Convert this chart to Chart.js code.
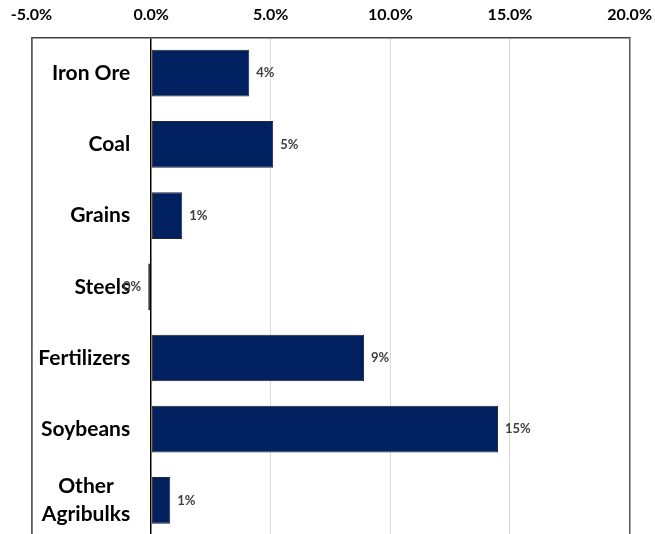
<!DOCTYPE html>
<html>
<head>
<meta charset="utf-8">
<script src="https://cdn.jsdelivr.net/npm/chart.js@4.4.1/dist/chart.umd.min.js"></script>
<style>
  html, body { margin: 0; padding: 0; background: #fff; overflow: hidden; }
  #wrap { width: 655px; height: 540px; position: relative; }
</style>
</head>
<body>
<div id="wrap"><canvas id="growthChart"></canvas></div>
<script>
// ========== DATA ==========
const categories = ['Iron Ore', 'Coal', 'Grains', 'Steels', 'Fertilizers', 'Soybeans', ['Other', 'Agribulks']];
const growth = [4.1, 5.1, 1.3, -0.12, 8.9, 14.5, 0.8];   // % change
const xTicks = [-5, 0, 5, 10, 15, 20];

const FONT = 'Lato, "Open Sans", sans-serif';

// category names, drawn just left of the zero line (Excel style)
const categoryLabels = {
    id: 'categoryLabels',
    afterDatasetsDraw(chart) {
        const ctx = chart.ctx;
        const xs = chart.scales.x, ys = chart.scales.y;
        const right = xs.getPixelForValue(0) - 21;
        ctx.save();
        ctx.font = 'bold 21px ' + FONT;
        ctx.fillStyle = '#000';
        ctx.textBaseline = 'middle';
        ctx.textAlign = 'center';
        categories.forEach((lab, i) => {
            const lines = Array.isArray(lab) ? lab : [lab];
            const w = Math.max(...lines.map(l => ctx.measureText(l).width));
            const cx = right - w / 2;
            const y0 = ys.getPixelForValue(i) - (lines.length - 1) * 28 / 2;
            lines.forEach((l, k) => ctx.fillText(l, cx, y0 + k * 28));
        });
        ctx.restore();
    }
};

// value labels at the bar ends
const barLabels = {
    id: 'barLabels',
    afterDatasetsDraw(chart) {
        const ctx = chart.ctx;
        const meta = chart.getDatasetMeta(0);
        ctx.save();
        ctx.font = 'bold 13px ' + FONT;
        ctx.fillStyle = '#404040';
        ctx.textBaseline = 'middle';
        meta.data.forEach((bar, i) => {
            const v = growth[i];
            const txt = String(Math.round(v)) + '%';
            if (v < 0) {
                ctx.textAlign = 'right';
                ctx.fillText(txt, bar.x - 7, bar.y);
            } else {
                ctx.textAlign = 'left';
                ctx.fillText(txt, bar.x + 7, bar.y);
            }
        });
        ctx.restore();
    }
};

function initChart() {
    const ctx = document.getElementById('growthChart').getContext('2d');
    new Chart(ctx, {
        type: 'bar',
        data: {
            labels: categories,
            datasets: [{
                data: growth,
                backgroundColor: '#002060',
                borderColor: '#262626',
                borderWidth: 1,
                borderSkipped: false,
                categoryPercentage: 1,
                barPercentage: 0.655
            }]
        },
        options: {
            indexAxis: 'y',
            responsive: true,
            maintainAspectRatio: false,
            animation: false,
            layout: { padding: { top: -7.5, left: 31.5, right: 24.5, bottom: 4 } },
            plugins: { legend: { display: false }, tooltip: { enabled: false } },
            scales: {
                x: {
                    position: 'top',
                    min: xTicks[0],
                    max: xTicks[xTicks.length - 1],
                    afterBuildTicks: (scale) => { scale.ticks = xTicks.map(v => ({ value: v })); },
                    ticks: {
                        font: { family: FONT, size: 16, weight: 'bold', lineHeight: 2.44 },
                        color: '#000',
                        padding: 3,
                        maxRotation: 0,
                        callback: (v) => Number(v).toFixed(1) + '%'
                    },
                    grid: {
                        drawTicks: false,
                        color: (c) => {
                            const v = c.tick && c.tick.value;
                            if (v === 0) return '#000';
                            if (v === xTicks[0] || v === xTicks[xTicks.length - 1]) return '#595959';
                            return '#d9d9d9';
                        },
                        lineWidth: (c) => {
                            const v = c.tick && c.tick.value;
                            return (v === 0 || v === xTicks[0] || v === xTicks[xTicks.length - 1]) ? 1.5 : 1;
                        }
                    },
                    border: { display: true, color: '#404040', width: 1.5 }
                },
                y: {
                    ticks: { display: false },
                    grid: { display: false, drawTicks: false },
                    border: { display: true, color: '#595959', width: 1.5 }
                }
            }
        },
        plugins: [categoryLabels, barLabels]
    });
}

document.addEventListener('DOMContentLoaded', initChart);
</script>
</body>
</html>
